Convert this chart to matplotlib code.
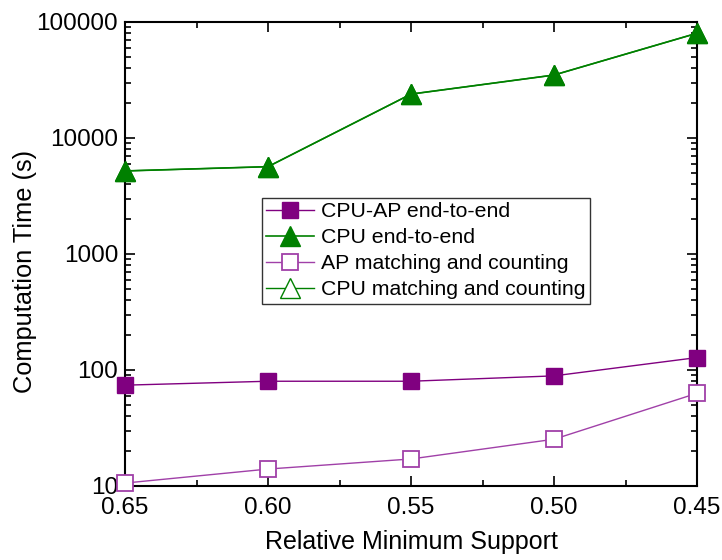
#! /usr/bin/env python3

import numpy as np
import matplotlib
matplotlib.use('Agg')
import matplotlib.pyplot as plt
from matplotlib.ticker import LogLocator, NullFormatter, FixedLocator

plt.rcParams['font.family'] = ['Liberation Sans', 'DejaVu Sans']

support = [0.65, 0.60, 0.55, 0.50, 0.45]
cpu_ap_e2e = [74, 80, 80, 89, 128]
cpu_e2e = [5200, 5660, 23900, 34900, 80000]
ap_match = [10.6, 14, 17.1, 25.3, 63]
cpu_match = [5200, 5660, 23900, 34900, 80000]

purple = '#800080'
light_purple = '#a040a8'
green = '#008000'

fig = plt.figure(figsize=(7.22, 5.6), dpi=100)
ax = fig.add_axes([125 / 722, 1 - 486 / 560, 572 / 722, 464 / 560])

ax.plot(support, cpu_match, color=green, lw=1, marker='^', ms=15,
        mfc='white', mec=green, label='CPU matching and counting',
        zorder=2, clip_on=False)
ax.plot(support, cpu_ap_e2e, color=purple, lw=1, marker='s', ms=12,
        mfc=purple, mec=purple, label='CPU-AP end-to-end',
        zorder=3, clip_on=False)
ax.plot(support, cpu_e2e, color=green, lw=1.2, marker='^', ms=15,
        mfc=green, mec=green, label='CPU end-to-end', zorder=3, clip_on=False)
ax.plot(support, ap_match, color=light_purple, lw=1, marker='s', ms=12,
        mfc='white', mec=light_purple, mew=1.3,
        label='AP matching and counting', zorder=3, clip_on=False)

ax.set_yscale('log')
ax.set_ylim(10, 100000)
ax.set_xlim(0.65, 0.45)
ax.set_xticks(support)
ax.set_xticklabels(['%.2f' % s for s in support])
ax.xaxis.set_minor_locator(FixedLocator([0.625, 0.575, 0.525, 0.475]))
ax.yaxis.set_major_locator(LogLocator(base=10, numticks=10))
ax.yaxis.set_minor_locator(LogLocator(base=10, subs=np.arange(2, 10), numticks=20))
ax.yaxis.set_minor_formatter(NullFormatter())
ax.yaxis.set_major_formatter(matplotlib.ticker.FuncFormatter(lambda v, p: '%d' % v))

ax.tick_params(which='both', direction='in', top=True, right=True,
               labelsize=17.5, width=1.2)
ax.tick_params(which='major', length=7)
ax.tick_params(which='minor', length=4)
ax.tick_params(axis='x', pad=8)
ax.tick_params(axis='y', pad=5)
for sp in ax.spines.values():
    sp.set_linewidth(1.5)

ax.set_xlabel('Relative Minimum Support', fontsize=18, labelpad=8)
ax.set_ylabel('Computation Time (s)', fontsize=18.3, labelpad=0)
ax.yaxis.set_label_coords(-88 / 572, 0.463)

handles, labels = ax.get_legend_handles_labels()
order = [1, 2, 3, 0]
leg = ax.legend([handles[i] for i in order], [labels[i] for i in order],
                loc='upper left', bbox_to_anchor=(137 / 572, 1 - 176 / 464),
                fontsize=15.3, frameon=True, fancybox=False, edgecolor='black',
                borderpad=0.2, labelspacing=0.33, handlelength=2.25,
                handletextpad=0.33, borderaxespad=0)
leg.get_frame().set_linewidth(1)

fig.savefig('out.png', dpi=100)
